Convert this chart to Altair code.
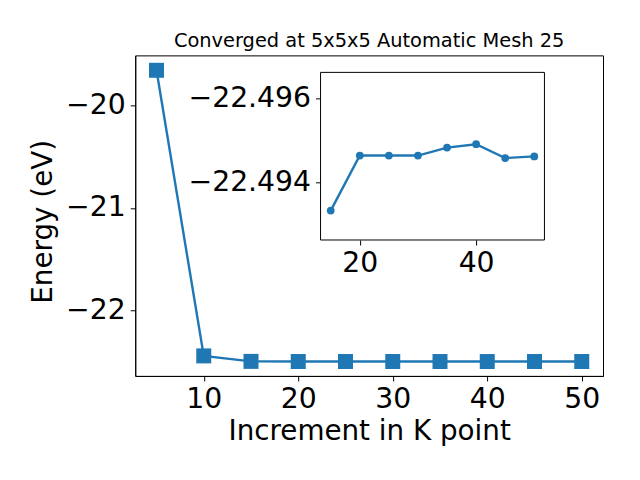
import altair as alt
import pandas as pd

# data
k_points = [5, 10, 15, 20, 25, 30, 35, 40, 45, 50]
energies = [-19.66, -22.44, -22.49333, -22.49464, -22.49464, -22.49464,
            -22.49483, -22.49491, -22.49458, -22.49462]
main_xticks = [10, 20, 30, 40, 50]
main_yticks = [-22, -21, -20]
inset_xticks = [20, 40]
inset_yticks = [-22.496, -22.494]
title_text = "Converged at 5x5x5 Automatic Mesh 25"
xlabel = "Increment in K point"
ylabel = "Energy (eV)"

BLUE = "#1f77b4"
FONT = "DejaVu Sans"

W, H = 468, 320.7
main_df = pd.DataFrame({"k": k_points, "e": energies})
inset_df = pd.DataFrame({"k": k_points[2:], "e": energies[2:]})
box_df = pd.DataFrame({"x1": [13.25], "x2": [51.75], "y1": [-22.49662], "y2": [-22.49263]})

axis_common = dict(
    domainColor="black", tickColor="black", labelColor="black", titleColor="black",
    tickSize=5, labelPadding=5, labelFontSize=28.3, labelFont=FONT,
    titleFont=FONT, titleFontSize=27.8, titleFontWeight="normal", grid=False,
)

mx = alt.X("k:Q", scale=alt.Scale(domain=[2.75, 52.25], nice=False, zero=False),
           axis=alt.Axis(values=main_xticks, title=xlabel, titleBaseline="alphabetic",
                         titleY=64, titleX=W / 2, **axis_common))
my = alt.Y("e:Q", scale=alt.Scale(domain=[-22.635, -19.515], nice=False, zero=False),
           axis=alt.Axis(values=main_yticks, title=ylabel, titleBaseline="alphabetic",
                         titleX=-83.6, titleY=166, titleAngle=-90, format="d", **axis_common))

main_line = alt.Chart(main_df).mark_line(color=BLUE, strokeWidth=2.4).encode(x=mx, y=my)
main_pts = alt.Chart(main_df).mark_point(shape="square", filled=True, size=225, opacity=1,
                                         color=BLUE).encode(x=mx, y=my)
main = alt.layer(main_line, main_pts)

ix_scale = alt.Scale(domain=[13.25, 51.75], range=[185.4, 409.4], nice=False, zero=False)
iy_scale = alt.Scale(domain=[-22.49662, -22.49263], range=[17, 184.7], nice=False, zero=False)
ix_axis = alt.Axis(values=inset_xticks, title=None, orient="bottom", offset=-136, domain=False,
                   **axis_common)
iy_axis = alt.Axis(values=inset_yticks, title=None, orient="left", offset=-185.4, domain=False,
                   format=".3f", **axis_common)

box = alt.Chart(box_df).mark_rect(fill="white", stroke="black", strokeWidth=1).encode(
    x=alt.X("x1:Q", scale=ix_scale, axis=ix_axis),
    x2="x2:Q",
    y=alt.Y("y1:Q", scale=iy_scale, axis=iy_axis),
    y2="y2:Q",
)
ix = alt.X("k:Q", scale=ix_scale, axis=ix_axis)
iy = alt.Y("e:Q", scale=iy_scale, axis=iy_axis)
inset_line = alt.Chart(inset_df).mark_line(color=BLUE, strokeWidth=2.4).encode(x=ix, y=iy)
inset_pts = alt.Chart(inset_df).mark_point(shape="circle", filled=True, size=60, opacity=1,
                                           color=BLUE).encode(x=ix, y=iy)
inset = alt.layer(box, inset_line, inset_pts)

chart = alt.layer(main, inset).resolve_scale(x="independent", y="independent").properties(
    width=W, height=H,
    title=alt.TitleParams(title_text, font=FONT, fontSize=19.4, fontWeight="normal",
                          color="black", baseline="alphabetic", offset=-11, anchor="middle"),
    autosize=alt.AutoSizeParams(type="none"),
    padding={"left": 127.3, "top": 47.3, "right": 29, "bottom": 89},
).configure(background="white").configure_view(stroke="black", strokeWidth=1)

chart.save("out.html", embed_options={"renderer": "svg", "actions": False})
